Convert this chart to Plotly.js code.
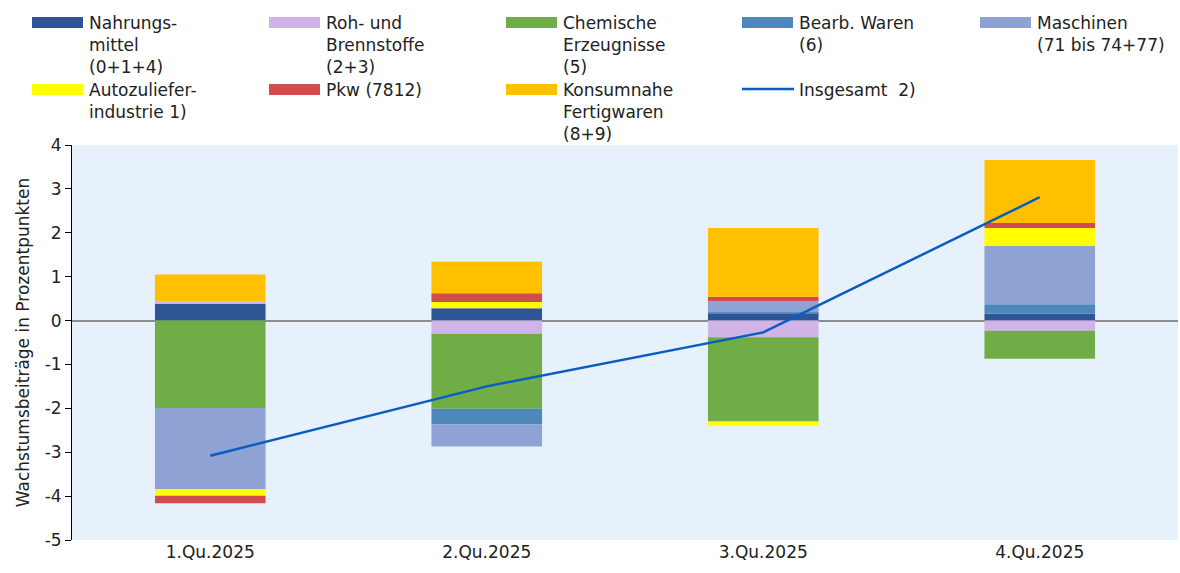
<!DOCTYPE html>
<html>
<head>
<meta charset="utf-8">
<script src="https://cdn.plot.ly/plotly-3.0.1.min.js"></script>
<style>
    body { margin: 0; background: #fff; }
    #chart { width: 1180px; height: 573px; }
</style>
</head>
<body>
<div id="chart"></div>
<script>
const quarters = ["1.Qu.2025", "2.Qu.2025", "3.Qu.2025", "4.Qu.2025"];

const nahrungsmittel = [0.38, 0.28, 0.17, 0.16];
const rohstoffe = [0.06, -0.30, -0.38, -0.23];
const chemie = [-1.99, -1.71, -1.92, -0.64];
const bearbWaren = [0, -0.36, 0.02, 0.21];
const maschinen = [-1.85, -0.50, 0.25, 1.33];
const autozulieferer = [-0.15, 0.14, -0.09, 0.41];
const pkw = [-0.17, 0.20, 0.10, 0.11];
const konsum = [0.61, 0.72, 1.57, 1.44];
const insgesamt = [-3.08, -1.50, -0.27, 2.81];

const yTickVals = [-5, -4, -3, -2, -1, 0, 1, 2, 3, 4];
const yTickText = ["-5", "-4", "-3", "-2", "-1", "0", "1", "2", "3", "4"];

const barSeries = [
    {name: "Nahrungs-<br>mittel<br>(0+1+4)", y: nahrungsmittel, color: "#2F5597"},
    {name: "Roh- und<br>Brennstoffe<br>(2+3)", y: rohstoffe, color: "#D0B3E7"},
    {name: "Chemische<br>Erzeugnisse<br>(5)", y: chemie, color: "#70AD47"},
    {name: "Bearb. Waren<br>(6)", y: bearbWaren, color: "#4E88BB"},
    {name: "Maschinen<br>(71 bis 74+77)", y: maschinen, color: "#8EA3D3"},
    {name: "Autozuliefer-<br>industrie 1)", y: autozulieferer, color: "#FFFF00"},
    {name: "Pkw (7812)", y: pkw, color: "#D24B4E"},
    {name: "Konsumnahe<br>Fertigwaren<br>(8+9)", y: konsum, color: "#FFC000"}
];
const lineName = "Insgesamt  2)";
const lineColor = "#0A5CC2";

// plot area in pixels
const W = 1180, H = 573;
const margin = {l: 72, r: 2, t: 145, b: 33};
const plotW = W - margin.l - margin.r;
const plotH = H - margin.t - margin.b;
const px = x => (x - margin.l) / plotW;
const py = y => (H - margin.b - y) / plotH;

const traces = barSeries.map(s => ({
    x: quarters,
    y: s.y,
    type: "bar",
    name: s.name.replace(/<br>/g, " "),
    marker: {color: s.color, line: {width: 0}},
    showlegend: false
}));
traces.push({
    x: quarters,
    y: insgesamt,
    type: "scatter",
    mode: "lines",
    name: lineName,
    line: {color: lineColor, width: 2.5},
    showlegend: false
});

// hand-built legend: 5 columns, 2 rows
const colX = [32, 269, 506, 742, 980];
const rowY = [17, 84];
const shapes = [];
const annotations = [];
const entries = barSeries.map(s => ({text: s.name, color: s.color, kind: "bar"}));
entries.push({text: lineName, color: lineColor, kind: "line"});
entries.forEach((e, i) => {
    const cx = colX[i % 5];
    const ry = rowY[Math.floor(i / 5)];
    if (e.kind === "bar") {
        shapes.push({
            type: "rect", xref: "paper", yref: "paper",
            x0: px(cx), x1: px(cx + 51), y0: py(ry), y1: py(ry + 11),
            fillcolor: e.color, line: {width: 0}
        });
    } else {
        shapes.push({
            type: "line", xref: "paper", yref: "paper",
            x0: px(cx), x1: px(cx + 52), y0: py(ry + 5), y1: py(ry + 5),
            line: {color: e.color, width: 2.5}
        });
    }
    annotations.push({
        xref: "paper", yref: "paper",
        x: px(cx + 55), y: py(ry - 6),
        xanchor: "left", yanchor: "top", align: "left",
        text: e.text, showarrow: false,
        font: {size: 17, color: "#222"}
    });
});

const layout = {
    width: W,
    height: H,
    margin: margin,
    barmode: "relative",
    bargap: 0.6,
    paper_bgcolor: "#ffffff",
    plot_bgcolor: "#E6F1FC",
    font: {family: "DejaVu Sans, sans-serif", size: 17, color: "#222"},
    showlegend: false,
    xaxis: {
        showgrid: false,
        showline: false,
        ticks: "",
        tickfont: {size: 17}
    },
    yaxis: {
        range: [-5, 4],
        tickvals: yTickVals,
        ticktext: yTickText,
        showgrid: false,
        showline: true,
        linecolor: "#000",
        linewidth: 1,
        ticks: "outside",
        ticklen: 6,
        tickcolor: "#000",
        zeroline: true,
        zerolinecolor: "#8c8c8c",
        zerolinewidth: 2,
        tickfont: {size: 17},
        title: {text: "Wachstumsbeiträge in Prozentpunkten", font: {size: 17}, standoff: 10}
    },
    shapes: shapes,
    annotations: annotations
};

Plotly.newPlot("chart", traces, layout, {displayModeBar: false});
</script>
</body>
</html>
